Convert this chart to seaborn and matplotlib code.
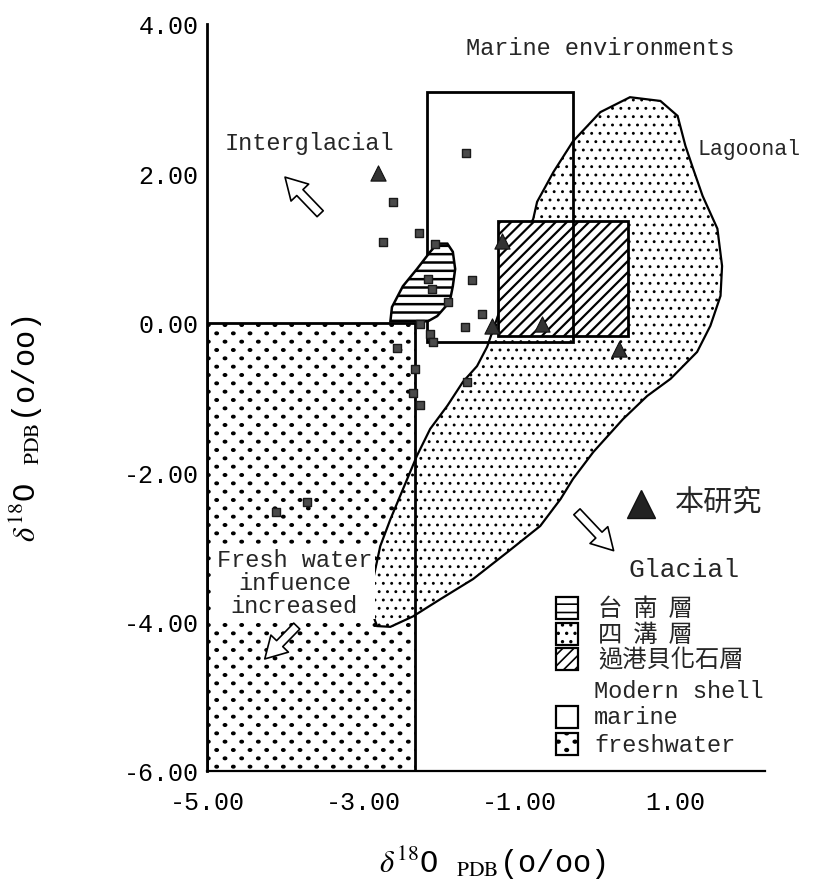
import numpy as np
import pandas as pd
import matplotlib
matplotlib.use("Agg")
import matplotlib.pyplot as plt
import matplotlib.hatch as mhatch
from matplotlib.path import Path
from matplotlib.patches import Polygon, Rectangle
from matplotlib.lines import Line2D
from matplotlib.ticker import MultipleLocator, FormatStrFormatter
import seaborn as sns

# ---------------- data ----------------
x_ticks = [-5.0, -3.0, -1.0, 1.0]
y_ticks = [-6.0, -4.0, -2.0, 0.0, 2.0, 4.0]

# this study (triangles)
study_x = [-2.81, -1.22, -1.35, -0.71, 0.28]
study_y = [2.01, 1.10, -0.04, -0.02, -0.35]

# other samples (small squares)
sq_x = [-1.68, -2.62, -2.28, -2.74, -2.08, -1.60, -2.12, -1.91, -2.27, -1.69,
        -1.47, -2.14, -2.10, -2.56, -2.33, -2.36, -2.27, -3.72, -4.12, -1.67, -2.17]
sq_y = [2.27, 1.62, 1.20, 1.08, 1.06, 0.57, 0.45, 0.28, -0.02, -0.06,
        0.12, -0.15, -0.26, -0.34, -0.62, -0.94, -1.10, -2.40, -2.53, -0.79, 0.59]

# Lagoonal field (四溝層)
lagoon_x = [-0.31, 0.04, 0.42, 0.81, 1.03, 1.13, 1.23, 1.35, 1.54, 1.60, 1.58,
            1.45, 1.28, 0.94, 0.64, 0.33, -0.05, -0.31, -0.47, -0.73, -1.15,
            -1.59, -2.01, -2.36, -2.65, -2.82, -2.89, -2.87, -2.78, -2.65,
            -2.49, -2.31, -2.14, -1.92, -1.72, -1.54, -1.41, -1.21, -1.08,
            -1.03, -0.82, -0.77, -0.56]
lagoon_y = [2.43, 2.82, 3.02, 2.97, 2.77, 2.37, 2.06, 1.70, 1.26, 0.76, 0.36,
            -0.04, -0.39, -0.75, -0.98, -1.29, -1.73, -2.09, -2.36, -2.72, -3.07,
            -3.43, -3.70, -3.93, -4.07, -4.06, -3.87, -3.43, -2.99, -2.63,
            -2.23, -1.78, -1.42, -1.11, -0.79, -0.58, -0.32, 0.28, 0.72,
            0.95, 1.39, 1.62, 2.02]

# Tainan formation field (台南層)
tainan_x = [-2.65, -2.63, -2.49, -2.31, -2.14, -2.05, -1.92, -1.85, -1.82,
            -1.85, -1.89, -2.05, -2.17]
tainan_y = [0.02, 0.21, 0.49, 0.72, 0.95, 1.06, 1.06, 0.95, 0.72,
            0.49, 0.28, 0.09, 0.02]

# 過港貝化石層 field
kuokang_x = [-1.27, 0.39]
kuokang_y = [-0.18, 1.36]

# modern shell fields
marine_x = [-2.18, -0.31]
marine_y = [-0.26, 3.09]
fresh_x = [-5.0, -2.33]
fresh_y = [-6.0, 0.0]

legend_labels = ["台  南  層", "四  溝  層", "過港貝化石層", "Modern shell", "marine", "freshwater"]


# ---------------- custom staggered dot hatch (freshwater) ----------------
class _FreshDots(mhatch.HatchPatternBase):
    def __init__(self, hatch, density):
        n = hatch.count('*')
        self.pts = []
        if n:
            ncol, nrow = 6 * n, 12 * n
            for r in range(nrow + 1):
                yy = r / nrow
                if r % 2 == 0:
                    cols = np.linspace(0, 1, ncol + 1)
                else:
                    cols = np.linspace(0.5 / ncol, 1 - 0.5 / ncol, ncol)
                for c in cols:
                    self.pts.append((c, yy))
        circ = Path.unit_circle()
        self.sv = circ.vertices
        self.sc = circ.codes
        self.num_vertices = len(self.pts) * len(self.sv)

    def set_vertices_and_codes(self, vertices, codes):
        shape = self.sv * np.array([0.017, 0.013])
        vparts, cparts = [], []
        for (c, r) in self.pts:
            vparts.append(shape + [c, r])
            cparts.append(self.sc)
        np.concatenate(vparts, out=vertices)
        np.concatenate(cparts, out=codes)


mhatch._hatch_types = [t for t in mhatch._hatch_types if t is not mhatch.Stars] + [_FreshDots]

# ---------------- style ----------------
sns.set_style("white")
plt.rcParams['font.family'] = ['Liberation Mono', 'Noto Sans CJK TC', 'DejaVu Sans']
plt.rcParams['mathtext.fontset'] = 'stix'
plt.rcParams['hatch.linewidth'] = 1.0
plt.rcParams['hatch.color'] = 'black'

W, H = 813, 887
fig = plt.figure(figsize=(W / 100, H / 100), dpi=100)
ax = fig.add_axes([207 / W, 1 - 772 / H, (765 - 207) / W, (772 - 25) / H])
ax.set_xlim(-5.0, 2.15)
ax.set_ylim(-6.0, 4.0)


def set_hlw(p, w):
    try:
        p.set_hatch_linewidth(w)
    except AttributeError:
        pass


# freshwater fill
fw = Rectangle((fresh_x[0], fresh_y[0]), fresh_x[1] - fresh_x[0], fresh_y[1] - fresh_y[0],
               facecolor='white', edgecolor='black', hatch='*', lw=0, zorder=1)
ax.add_patch(fw)

# lagoonal field
lag = Polygon(np.column_stack([lagoon_x, lagoon_y]), closed=True, facecolor='white',
              edgecolor='black', hatch='..', lw=1.6, zorder=1.5)
set_hlw(lag, 0.9)
ax.add_patch(lag)

# freshwater outline
ax.add_patch(Rectangle((fresh_x[0], fresh_y[0]), fresh_x[1] - fresh_x[0], fresh_y[1] - fresh_y[0],
                       facecolor='none', edgecolor='black', lw=2.0, zorder=3))

# 過港貝化石層 rectangle
kk = Rectangle((kuokang_x[0], kuokang_y[0]), kuokang_x[1] - kuokang_x[0], kuokang_y[1] - kuokang_y[0],
               facecolor='white', edgecolor='black', hatch='///', lw=2.0, zorder=3)
set_hlw(kk, 1.6)
ax.add_patch(kk)

# marine outline
ax.add_patch(Rectangle((marine_x[0], marine_y[0]), marine_x[1] - marine_x[0], marine_y[1] - marine_y[0],
                       facecolor='none', edgecolor='black', lw=2.0, zorder=3.5))

# Tainan field
tn = Polygon(np.column_stack([tainan_x, tainan_y]), closed=True, facecolor='white',
             edgecolor='black', hatch='--', lw=1.8, zorder=4)
set_hlw(tn, 1.8)
ax.add_patch(tn)

# data points
sns.scatterplot(x=sq_x, y=sq_y, ax=ax, marker='s', s=30, color='#4a4a4a',
                edgecolor='#1a1a1a', linewidth=1.0, zorder=6, legend=False)
sns.scatterplot(x=study_x, y=study_y, ax=ax, marker='^', s=120, color='#333333',
                edgecolor='#111111', linewidth=0.8, zorder=7, legend=False)

# axes styling
for s in ['top', 'right']:
    ax.spines[s].set_visible(False)
ax.spines['left'].set_linewidth(2.0)
ax.spines['bottom'].set_linewidth(1.6)
ax.spines['left'].set_color('black')
ax.spines['bottom'].set_color('black')
ax.set_xticks(x_ticks)
ax.set_yticks(y_ticks)
ax.xaxis.set_major_formatter(FormatStrFormatter('%.2f'))
ax.yaxis.set_major_formatter(FormatStrFormatter('%.2f'))
ax.xaxis.set_minor_locator(MultipleLocator(0.4))
ax.yaxis.set_minor_locator(MultipleLocator(0.4))
ax.tick_params(axis='both', which='major', direction='in', length=7, width=1.5,
               labelsize=18, colors='black')
ax.tick_params(axis='y', which='major', pad=6)
ax.tick_params(axis='x', which='major', pad=14)
ax.tick_params(axis='both', which='minor', direction='in', length=5, width=1.3)

lab = r'$\delta^{18}$O $_{\mathrm{PDB}}$(o/oo)'
ax.set_xlabel(lab, fontsize=22, color='black')
ax.set_ylabel(lab, fontsize=22, color='black')
ax.xaxis.set_label_coords(0.511, -0.098)
ax.yaxis.set_label_coords(-0.29, 0.46)

# annotations
ax.text(0.04, 3.69, "Marine environments", fontsize=17, ha='center', va='center', zorder=8)
ax.text(-3.69, 2.42, "Interglacial", fontsize=17, ha='center', va='center', zorder=8)
ax.text(1.28, 2.33, "Lagoonal", fontsize=15.5, ha='left', va='center', zorder=8)
ax.text(1.115, -3.30, "Glacial", fontsize=19, ha='center', va='center', zorder=8)
ax.text(-3.88, -3.47, "Fresh water\ninfuence\nincreased", fontsize=17, ha='center',
        va='center', multialignment='center', linespacing=1.0, zorder=2,
        bbox=dict(facecolor='white', edgecolor='none', pad=2))

arrow_kw = dict(arrowstyle='simple,head_length=0.7,head_width=0.8,tail_width=0.28',
                fc='white', ec='black', lw=1.2, shrinkA=0, shrinkB=0, mutation_scale=22)
ax.annotate('', xy=(-4.0, 1.95), xytext=(-3.55, 1.46), arrowprops=arrow_kw, zorder=8)
ax.annotate('', xy=(0.21, -3.05), xytext=(-0.26, -2.53), arrowprops=arrow_kw, zorder=8)
ax.annotate('', xy=(-4.26, -4.50), xytext=(-3.85, -4.06), arrowprops=arrow_kw, zorder=8)


# ---------------- legend (figure pixel placement) ----------------
def fx(px):
    return px / W


def fy(py):
    return 1 - py / H


fig.add_artist(Line2D([fx(641)], [fy(505)], marker='^', markersize=20, color='#222222',
                      markeredgecolor='#111111', transform=fig.transFigure, linestyle='none'))
fig.text(fx(675), fy(503), "本研究", fontsize=21, family=['Noto Sans CJK TC'],
         ha='left', va='center')

rows = [609, 635, 660, 692, 718, 745]
hatches = ['--', '..', '///', None, '', '*']
for lbl, yy, h in zip(legend_labels, rows, hatches):
    if h is not None:
        p = Rectangle((fx(556), fy(yy + 11)), 22 / W, 22 / H, transform=fig.transFigure,
                      facecolor='white', edgecolor='black', hatch=(h if h else None), lw=1.6)
        set_hlw(p, 1.2)
        fig.add_artist(p)
    if any(ord(ch) > 0x2E80 for ch in lbl):
        fig.text(fx(598), fy(yy), lbl, fontsize=17.5, family=['Noto Sans CJK TC'],
                 ha='left', va='center')
    else:
        fig.text(fx(594), fy(yy), lbl, fontsize=17, ha='left', va='center')

fig.savefig("out.png", dpi=100, facecolor='white')
